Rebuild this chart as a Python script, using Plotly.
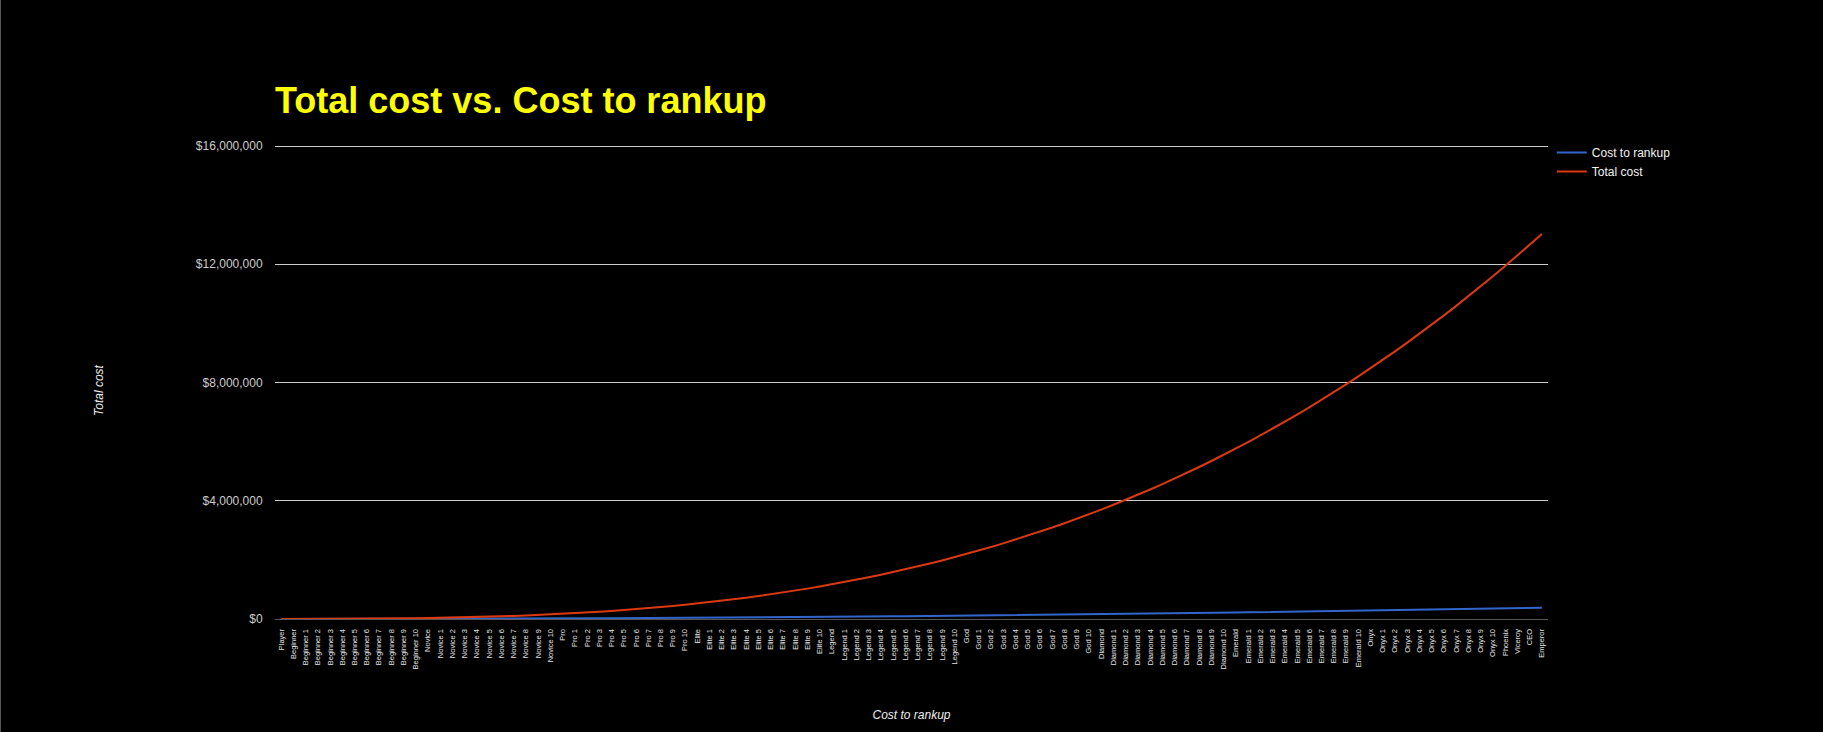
import plotly.graph_objects as go

ranks = [
    "Player", "Beginner", "Beginner 1", "Beginner 2", "Beginner 3", "Beginner 4", "Beginner 5",
    "Beginner 6", "Beginner 7", "Beginner 8", "Beginner 9", "Beginner 10",
    "Novice", "Novice 1", "Novice 2", "Novice 3", "Novice 4", "Novice 5", "Novice 6",
    "Novice 7", "Novice 8", "Novice 9", "Novice 10",
    "Pro", "Pro 1", "Pro 2", "Pro 3", "Pro 4", "Pro 5", "Pro 6", "Pro 7", "Pro 8", "Pro 9", "Pro 10",
    "Elite", "Elite 1", "Elite 2", "Elite 3", "Elite 4", "Elite 5", "Elite 6", "Elite 7",
    "Elite 8", "Elite 9", "Elite 10",
    "Legend", "Legend 1", "Legend 2", "Legend 3", "Legend 4", "Legend 5", "Legend 6",
    "Legend 7", "Legend 8", "Legend 9", "Legend 10",
    "God", "God 1", "God 2", "God 3", "God 4", "God 5", "God 6", "God 7", "God 8", "God 9", "God 10",
    "Diamond", "Diamond 1", "Diamond 2", "Diamond 3", "Diamond 4", "Diamond 5", "Diamond 6",
    "Diamond 7", "Diamond 8", "Diamond 9", "Diamond 10",
    "Emerald", "Emerald 1", "Emerald 2", "Emerald 3", "Emerald 4", "Emerald 5", "Emerald 6",
    "Emerald 7", "Emerald 8", "Emerald 9", "Emerald 10",
    "Onyx", "Onyx 1", "Onyx 2", "Onyx 3", "Onyx 4", "Onyx 5", "Onyx 6", "Onyx 7", "Onyx 8",
    "Onyx 9", "Onyx 10",
    "Phoenix", "Viceroy", "CEO", "Emperor",
]

cost_to_rankup = [
    0, 40, 140, 320, 580, 900, 1300, 1760, 2300, 2920,
    3600, 4360, 5180, 6080, 7060, 8100, 9220, 10400, 11660, 13000,
    14400, 15880, 17420, 19040, 20740, 22500, 24340, 26240, 28220, 30280,
    32400, 34600, 36860, 39200, 41620, 44100, 46660, 49280, 51980, 54760,
    57600, 60520, 63500, 66560, 69700, 72900, 76180, 79520, 82940, 86440,
    90000, 93640, 97340, 101120, 104980, 108900, 112900, 116960, 121100, 125320,
    129600, 133960, 138380, 142880, 147460, 152100, 156820, 161600, 166460, 171400,
    176400, 181480, 186620, 191840, 197140, 202500, 207940, 213440, 219020, 224680,
    230400, 236200, 242060, 248000, 254020, 260100, 266260, 272480, 278780, 285160,
    291600, 298120, 304700, 311360, 318100, 324900, 331780, 338720, 345740, 352840,
    360000, 367240, 374540, 381920,
]

total_cost = [
    0, 85, 386, 968, 1901, 3250, 5083, 7468, 10470, 14159,
    18600, 23861, 30010, 37112, 45237, 54450, 64819, 76412, 89294, 103535,
    119200, 136357, 155074, 175416, 197453, 221250, 246875, 274396, 303878, 335391,
    369000, 404773, 442778, 483080, 525749, 570850, 618451, 668620, 721422, 776927,
    835200, 896309, 960322, 1027304, 1097325, 1170450, 1246747, 1326284, 1409126, 1495343,
    1585000, 1678165, 1774906, 1875288, 1979381, 2087250, 2198963, 2314588, 2434190, 2557839,
    2685600, 2817541, 2953730, 3094232, 3239117, 3388450, 3542299, 3700732, 3863814, 4031615,
    4204200, 4381637, 4563994, 4751336, 4943733, 5141250, 5343955, 5551916, 5765198, 5983871,
    6208000, 6437653, 6672898, 6913800, 7160429, 7412850, 7671131, 7935340, 8205542, 8481807,
    8764200, 9052789, 9347642, 9648824, 9956405, 10270450, 10591027, 10918204, 11252046, 11592623,
    11940000, 12294245, 12655426, 13023608,
]

y_ticks = [0, 4000000, 8000000, 12000000, 16000000]
y_tick_text = ["$0", "$4,000,000", "$8,000,000", "$12,000,000", "$16,000,000"]

FONT = "Liberation Sans, Arial, Helvetica, sans-serif"

# plot area geometry (px); 16M gridline sits 3px below the plot-area top
L, R, T, B = 275, 275, 143, 113
PW, PH = 1823 - L - R, 732 - T - B
PAD = 3

fig = go.Figure()
fig.add_trace(go.Scatter(x=ranks, y=cost_to_rankup, mode="lines", name="Cost to rankup",
                         line=dict(color="#3366cc", width=2)))
fig.add_trace(go.Scatter(x=ranks, y=total_cost, mode="lines", name="Total cost",
                         line=dict(color="#dc3912", width=2)))

fig.update_layout(
    width=1823, height=732,
    paper_bgcolor="black", plot_bgcolor="black",
    margin=dict(l=L, r=R, t=T, b=B, autoexpand=False),
    font=dict(family=FONT, color="#eeeeee"),
    title=dict(text="<b>Total cost vs. Cost to rankup</b>",
               font=dict(family=FONT, size=36, color="#ffff00"),
               x=L / 1823, xanchor="left", xref="container",
               y=1 - 88 / 732, yanchor="top", yref="container"),
    showlegend=True,
    legend=dict(x=1.003, y=1 + 5 / PH, xanchor="left", yanchor="top",
                font=dict(family=FONT, size=12, color="#f2f2f2"),
                bgcolor="rgba(0,0,0,0)", borderwidth=0, tracegroupgap=0),
    xaxis=dict(type="category", range=[-0.5, len(ranks) - 0.5],
               tickmode="linear", tick0=0, dtick=1,
               tickangle=-90, tickfont=dict(family=FONT, size=7.5, color="#e6e6e6"),
               showgrid=False, showline=False, zeroline=False,
               ticks="outside", ticklen=6, tickcolor="rgba(0,0,0,0)",
               title=dict(text="<i>Cost to rankup</i>",
                          font=dict(family=FONT, size=12, color="#eeeeee"), standoff=42),
               automargin=False),
    yaxis=dict(range=[0, 16000000 * PH / (PH - PAD)], tickmode="array",
               tickvals=y_ticks, ticktext=y_tick_text,
               tickfont=dict(family=FONT, size=12, color="#cccccc"),
               showgrid=True, gridcolor="#cccccc", gridwidth=1,
               zeroline=True, zerolinecolor="#555555", zerolinewidth=1,
               showline=False,
               ticks="outside", ticklen=9, tickcolor="rgba(0,0,0,0)",
               automargin=False),
    annotations=[dict(text="<i>Total cost</i>", textangle=-90,
                      xref="paper", yref="paper",
                      x=(99 - L) / PW, y=(732 - B - 390) / PH,
                      xanchor="center", yanchor="middle", showarrow=False,
                      font=dict(family=FONT, size=12, color="#eeeeee"))],
)

fig.add_shape(type="line", xref="paper", yref="paper",
              x0=(0.5 - L) / PW, x1=(0.5 - L) / PW, y0=-B / PH, y1=1 + T / PH,
              line=dict(color="#555555", width=1))

fig.write_html("out.html")
